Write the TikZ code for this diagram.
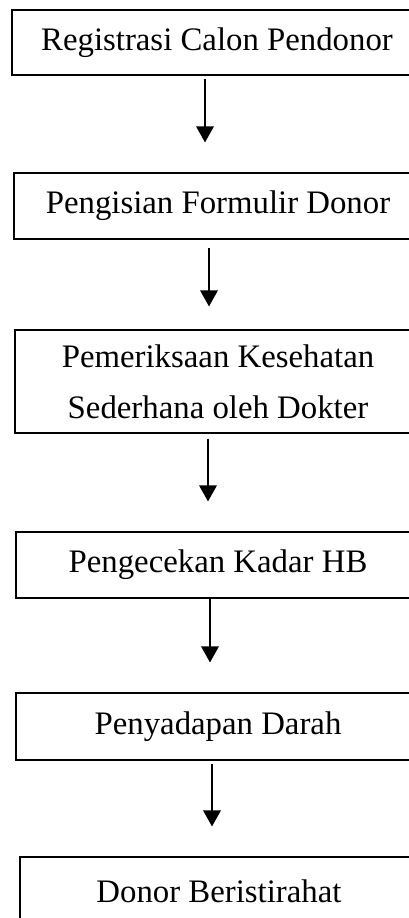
\documentclass[tikz,border=0pt]{standalone}
\usepackage{fontspec}
\setmainfont{Liberation Serif}
\usepackage{tikz}
\usetikzlibrary{arrows.meta}

\begin{document}
\begin{tikzpicture}[x=0.75pt,y=-0.75pt,
    stepbox/.style={draw,line width=0.8pt,align=center,inner sep=0pt,
      font=\fontsize{24.6}{38.25}\selectfont},
    arr/.style={line width=1.5pt,-{Triangle[width=13pt,length=12pt]}}]
      \useasboundingbox (0,0) rectangle (409,918);
      \clip (0,0) rectangle (409,918);
      \node[stepbox,minimum width=307.5pt,minimum height=48.75pt] (reg) at (217,42.5) {Registrasi Calon Pendonor};
      \node[stepbox,minimum width=306pt,minimum height=49.5pt] (form) at (218,206) {Pengisian Formulir Donor};
      \node[stepbox,minimum width=304.5pt,minimum height=77.25pt] (periksa) at (218,381.5) {Pemeriksaan Kesehatan\\Sederhana oleh Dokter};
      \node[stepbox,minimum width=303pt,minimum height=49.5pt] (hb) at (218,565) {Pengecekan Kadar HB};
      \node[stepbox,minimum width=303pt,minimum height=50.25pt] (sadap) at (218,726.5) {Penyadapan Darah};
      \node[stepbox,minimum width=298.5pt,minimum height=51pt] (istirahat) at (219,891) {Donor Beristirahat};
      \draw[arr] ([shift={(-12,3)}]reg.south) -- ([shift={(-13,-30)}]form.north);
      \draw[arr] ([shift={(-9,8)}]form.south) -- ([shift={(-9,-23)}]periksa.north);
      \draw[arr] ([shift={(-10,5)}]periksa.south) -- ([shift={(-10,-30)}]hb.north);
      \draw[arr] ([shift={(-8,0)}]hb.south) -- ([shift={(-8,-30)}]sadap.north);
      \draw[arr] ([shift={(-6,3)}]sadap.south) -- ([shift={(-7,-30)}]istirahat.north);
\end{tikzpicture}
\end{document}
